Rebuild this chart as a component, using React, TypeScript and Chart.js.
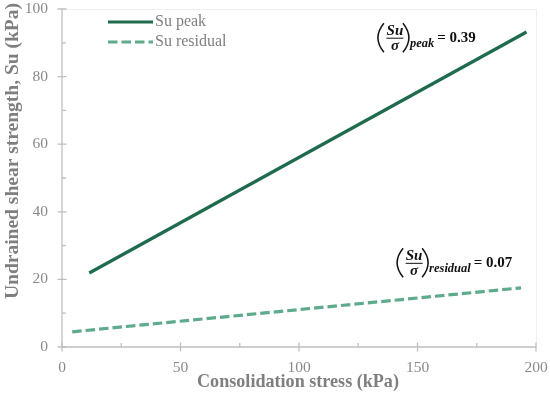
import { useEffect, useRef } from "react";
import { Chart, registerables } from "chart.js";
Chart.register(...registerables);

const seriesLabels = ["Su peak", "Su residual"];
const seriesColors = ["#1f6b4e", "#5eaa8c"];
const peakX = [11.5, 196];
const peakY = [21.9, 93.2];
const residualX = [4.3, 193.7];
const residualY = [4.5, 17.5];
const xTicks = [0, 50, 100, 150, 200];
const yTicks = [0, 20, 40, 60, 80, 100];
const xTitle = "Consolidation stress (kPa)";
const yTitle = "Undrained shear strength, Su (kPa)";
const ratioSubs = ["peak", "residual"];
const ratioValues = ["0.39", "0.07"];
const ratioAnchorX = [133.3, 141.4];
const ratioAnchorY = [91.5, 24.9];

const FONT = '"Liberation Serif", "Times New Roman", serif';
const AXIS = "#bfbfbf";
const TICK_TEXT = "#898989";
const TITLE_TEXT = "#7f7f7f";

function drawRatio(ctx: CanvasRenderingContext2D, px: number, py: number, sub: string, val: string) {
  ctx.save();
  ctx.fillStyle = "#111";
  ctx.strokeStyle = "#111";
  ctx.lineWidth = 1.5;
  ctx.beginPath();
  ctx.moveTo(px + 6, py - 14.5);
  ctx.quadraticCurveTo(px - 6, py, px + 6, py + 14.5);
  ctx.stroke();
  ctx.beginPath();
  ctx.moveTo(px + 25, py - 14.5);
  ctx.quadraticCurveTo(px + 37, py, px + 25, py + 14.5);
  ctx.stroke();
  ctx.lineWidth = 1;
  ctx.beginPath();
  ctx.moveTo(px + 8.5, py + 0.5);
  ctx.lineTo(px + 25.5, py + 0.5);
  ctx.stroke();
  ctx.textAlign = "center";
  ctx.textBaseline = "alphabetic";
  ctx.font = `bold italic 15px ${FONT}`;
  ctx.fillText("Su", px + 17, py - 2.5);
  ctx.fillText("σ", px + 17, py + 12.5);
  ctx.textAlign = "left";
  ctx.font = `bold italic 12.5px ${FONT}`;
  ctx.fillText(sub, px + 32, py + 9);
  const w = ctx.measureText(sub).width;
  ctx.font = `bold 15px ${FONT}`;
  ctx.fillText("= " + val, px + 32 + w + 3, py + 4.5);
  ctx.restore();
}

function fitFont(ctx: CanvasRenderingContext2D, text: string, target: number, weight: string) {
  ctx.font = `${weight} 20px ${FONT}`;
  const w = ctx.measureText(text).width;
  const size = (20 * target) / w;
  ctx.font = `${weight} ${size}px ${FONT}`;
}

const deco = {
  id: "deco",
  beforeDatasetsDraw(chart: any) {
    const { ctx, chartArea: a } = chart;
    ctx.save();
    ctx.strokeStyle = "#efefef";
    ctx.lineWidth = 1;
    ctx.beginPath();
    ctx.moveTo(a.left, a.top + 0.5);
    ctx.lineTo(a.right + 0.5, a.top + 0.5);
    ctx.lineTo(a.right + 0.5, a.bottom);
    ctx.stroke();
    ctx.restore();
  },
  afterDraw(chart: any) {
    const { ctx, chartArea: a } = chart;
    const xs = chart.scales.x;
    const ys = chart.scales.y;
    const ax = xs.getPixelForValue(0);
    const ay = ys.getPixelForValue(0);
    ctx.save();
    ctx.strokeStyle = AXIS;
    ctx.lineWidth = 1.3;
    ctx.beginPath();
    ctx.moveTo(ax, ys.getPixelForValue(yTicks[yTicks.length - 1]));
    ctx.lineTo(ax, ay);
    ctx.moveTo(ax, ay);
    ctx.lineTo(xs.getPixelForValue(xTicks[xTicks.length - 1]), ay);
    ctx.stroke();
    ctx.beginPath();
    xTicks.forEach((v) => {
      const p = xs.getPixelForValue(v);
      ctx.moveTo(p, ay - 4.5);
      ctx.lineTo(p, ay + 4.5);
    });
    yTicks.forEach((v) => {
      const p = ys.getPixelForValue(v);
      ctx.moveTo(ax - 4.5, p);
      ctx.lineTo(ax + 4.5, p);
    });
    for (let i = 0; i < xTicks.length - 1; i++) {
      const p = xs.getPixelForValue((xTicks[i] + xTicks[i + 1]) / 2);
      ctx.moveTo(p, ay);
      ctx.lineTo(p, ay - 4);
    }
    for (let i = 0; i < yTicks.length - 1; i++) {
      const p = ys.getPixelForValue((yTicks[i] + yTicks[i + 1]) / 2);
      ctx.moveTo(ax, p);
      ctx.lineTo(ax + 4, p);
    }
    ctx.stroke();
    ctx.fillStyle = TICK_TEXT;
    ctx.font = `15.5px ${FONT}`;
    ctx.textBaseline = "middle";
    ctx.textAlign = "center";
    xTicks.forEach((v) => ctx.fillText(String(v), xs.getPixelForValue(v), ay + 21));
    ctx.textAlign = "right";
    yTicks.forEach((v) => ctx.fillText(String(v), ax - 14, ys.getPixelForValue(v)));
    ctx.fillStyle = TITLE_TEXT;
    ctx.textAlign = "center";
    fitFont(ctx, xTitle, 202, "bold");
    ctx.fillText(xTitle, (a.left + a.right) / 2 - 1, ay + 35);
    ctx.save();
    ctx.translate(13, 151);
    ctx.rotate(-Math.PI / 2);
    fitFont(ctx, yTitle, 296, "bold");
    ctx.fillText(yTitle, 0, 0);
    ctx.restore();
    chart.data.datasets.forEach((ds: any, i: number) => {
      const ly = a.top + 13 + i * 20;
      ctx.strokeStyle = ds.borderColor;
      ctx.lineWidth = ds.borderWidth;
      ctx.setLineDash(ds.borderDash || []);
      ctx.lineCap = "butt";
      ctx.beginPath();
      ctx.moveTo(a.left + 46, ly);
      ctx.lineTo(a.left + 91, ly);
      ctx.stroke();
      ctx.setLineDash([]);
      ctx.fillStyle = "#808080";
      ctx.font = `16px ${FONT}`;
      ctx.textAlign = "left";
      ctx.textBaseline = "middle";
      ctx.fillText(ds.label, a.left + 93, ly);
    });
    ratioSubs.forEach((s, i) => {
      drawRatio(ctx, xs.getPixelForValue(ratioAnchorX[i]), ys.getPixelForValue(ratioAnchorY[i]), s, ratioValues[i]);
    });
    ctx.restore();
  },
};

export default function App() {
  const ref = useRef<HTMLCanvasElement | null>(null);
  useEffect(() => {
    if (!ref.current) return;
    const chart = new Chart(ref.current, {
      type: "scatter",
      data: {
        datasets: [
          {
            label: seriesLabels[0],
            data: peakX.map((x, i) => ({ x, y: peakY[i] })),
            showLine: true,
            borderColor: seriesColors[0],
            backgroundColor: seriesColors[0],
            borderWidth: 3.2,
            pointRadius: 0,
            borderCapStyle: "butt",
          },
          {
            label: seriesLabels[1],
            data: residualX.map((x, i) => ({ x, y: residualY[i] })),
            showLine: true,
            borderColor: seriesColors[1],
            backgroundColor: seriesColors[1],
            borderWidth: 3.2,
            borderDash: [9.5, 4],
            pointRadius: 0,
            borderCapStyle: "butt",
          },
        ],
      },
      options: {
        responsive: false,
        animation: false,
        layout: { padding: { top: 9, right: 14, left: 0, bottom: 0 } },
        plugins: { legend: { display: false }, tooltip: { enabled: false } },
        scales: {
          x: {
            type: "linear",
            min: 0,
            max: 200,
            afterFit: (s: any) => {
              s.height = 54;
            },
            ticks: { display: false },
            grid: { display: false },
            border: { display: false },
          },
          y: {
            type: "linear",
            min: 0,
            max: 100,
            afterFit: (s: any) => {
              s.width = 62;
            },
            ticks: { display: false },
            grid: { display: false },
            border: { display: false },
          },
        },
      },
      plugins: [deco],
    } as any);
    return () => chart.destroy();
  }, []);
  return (
    <div style={{ position: "absolute", left: 0, top: 0, width: 550, height: 401, background: "#fff" }}>
      <canvas ref={ref} width={550} height={401} style={{ display: "block" }} />
    </div>
  );
}
